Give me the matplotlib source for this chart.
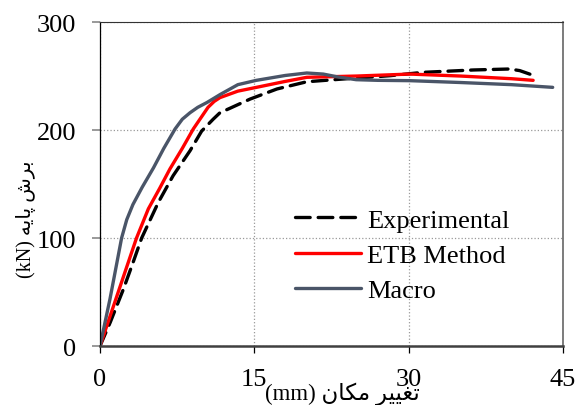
import matplotlib.pyplot as plt

# داده‌ها
exp_x = [0, 1, 2.27, 3.2, 4.05, 5.67, 7.1, 8.75, 9.88, 11.0, 11.66, 12.6, 14.6, 17.2,
         20.1, 23.3, 28.2, 31.4, 36.3, 39.8, 40.8, 42]
exp_y = [0, 22, 52.5, 77, 100, 133, 157.6, 180.8, 199, 210, 216, 220, 228.7, 238,
         244.7, 247, 250.3, 253.4, 255.6, 256.5, 255, 251]

etb_x = [0, 1.1, 2.2, 3.55, 4.7, 5.8, 6.8, 8, 9.07, 10.5, 11.1, 11.66, 13.4, 15.2,
         18, 20.1, 25, 30.1, 35, 40, 42.1]
etb_y = [0, 31, 62, 100, 127, 146, 164, 183, 201, 221, 226.5, 230, 236, 239.5,
         245, 248.8, 250, 251.8, 250, 247.5, 246]

macro_x = [0, 0.97, 2.1, 2.6, 3.2, 4.1, 5.2, 6.2, 7.3, 8.0, 8.75, 9.5, 10.4, 11.7,
           13.4, 15.2, 18, 20.1, 21.7, 23.2, 24.9, 27, 30.1, 35, 40, 44]
macro_y = [0, 43.5, 100, 117, 131, 147, 165, 183, 201, 210, 216, 221, 225.5, 233,
           242, 246, 250.5, 252.8, 251.8, 249, 246.6, 246, 245.7, 244, 242, 239.5]

x_ticks = [0, 15, 30, 45]
y_ticks = [0, 100, 200, 300]

# متن فارسی با شکل‌های نمایشی (ترتیب دیداری)
x_label = "(mm) \uFEE5\uFE8E\uFB91\uFEE3 \uFEAE\uFBFF\uFBFF\uFED0\uFE97"
y_label = "(kN) \uFEEA\uFBFE\uFE8E\uFB58 \uFEB5\uFEAE\uFE91"

fonts = ['Liberation Serif', 'DejaVu Sans']
plt.rcParams['font.family'] = fonts

fig = plt.figure(figsize=(5.77, 4.06), dpi=100)
ax = fig.add_axes([0.1733, 0.1453, 0.8024, 0.798])

style = dict(lw=2.4, solid_joinstyle='round', solid_capstyle='round')
l1, = ax.plot(exp_x, exp_y, color='black', lw=2.4, dashes=(4.4, 2.4),
              dash_capstyle='round', dash_joinstyle='round', label='Experimental')
l2, = ax.plot(etb_x, etb_y, color='#ff0000', label='ETB Method', **style)
l3, = ax.plot(macro_x, macro_y, color='#4a5568', label='Macro', **style)

ax.set_xlim(0, 45)
ax.set_ylim(0, 300)
ax.set_xticks(x_ticks)
ax.set_yticks(y_ticks)
ax.grid(True, color='#999999', linestyle=':', linewidth=0.9)

ax.spines['left'].set_color('black')
ax.spines['left'].set_linewidth(0.9)
ax.spines['bottom'].set_color('#404040')
ax.spines['bottom'].set_linewidth(1.8)
ax.spines['top'].set_color('#333333')
ax.spines['right'].set_color('#666666')
ax.spines['right'].set_linewidth(1.2)

ax.tick_params(axis='x', direction='out', length=5, width=0.9, color='black',
               labelsize=19, pad=11)
ax.tick_params(axis='y', direction='out', length=6, width=1.2, color='#888888',
               labelsize=19, pad=11)

fig.legend(handles=[l1, l2, l3], loc='upper left',
           bbox_to_anchor=(0.511, 0.485), frameon=False, fontsize=19,
           borderpad=0, borderaxespad=0, handlelength=2.5, handletextpad=0.25,
           labelspacing=0.45)

fig.text(342 / 577, 1 - 394 / 406, x_label, ha='center', va='center',
         fontsize=16.5, family=fonts)
fig.text(26 / 577, 1 - 219 / 406, y_label, ha='center', va='center',
         fontsize=14.5, rotation=90, family=fonts)

fig.savefig('out.png', dpi=100)
